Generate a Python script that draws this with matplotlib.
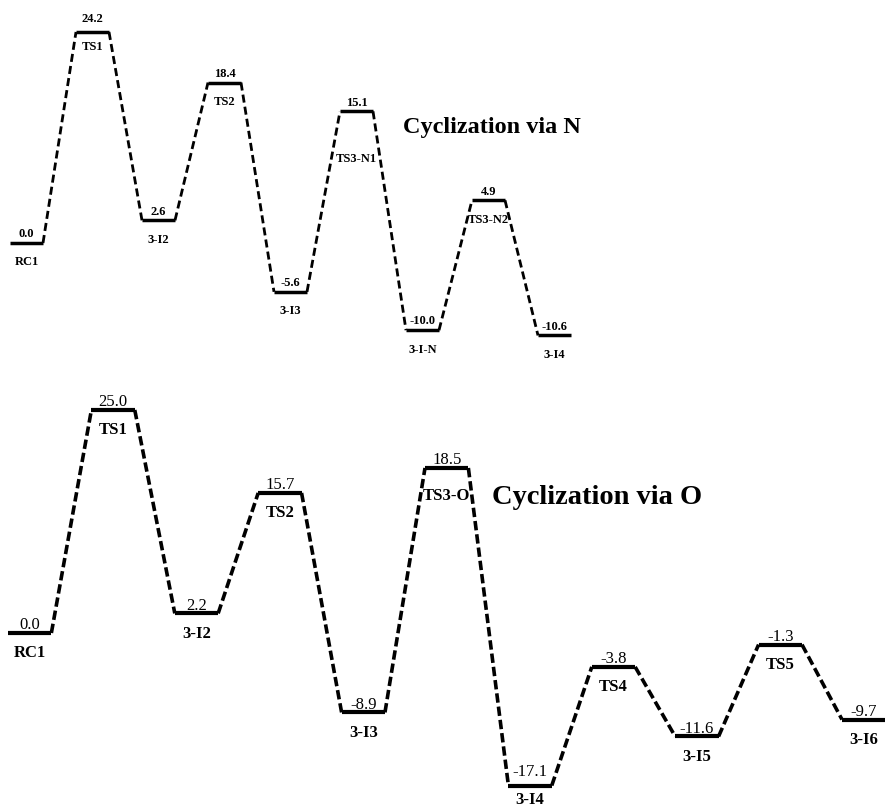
import matplotlib
matplotlib.use("Agg")
import matplotlib.pyplot as plt

# ---- data ----
n_states = ["RC1", "TS1", "3-I2", "TS2", "3-I3", "TS3-N1", "3-I-N", "TS3-N2", "3-I4"]
n_energy = [0.0, 24.2, 2.6, 18.4, -5.6, 15.1, -10.0, 4.9, -10.6]
n_title = "Cyclization via N"

o_states = ["RC1", "TS1", "3-I2", "TS2", "3-I3", "TS3-O", "3-I4", "TS4", "3-I5", "TS5", "3-I6"]
o_energy = [0.0, 25.0, 2.2, 15.7, -8.9, 18.5, -17.1, -3.8, -11.6, -1.3, -9.7]
o_title = "Cyclization via O"

plt.rcParams['font.family'] = ['Liberation Serif', 'DejaVu Serif']

W, H = 885, 808
fig = plt.figure(figsize=(W / 100, H / 100), dpi=100)


def draw_profile(ax, states, energies, width, lw_level, lw_dash, dash, fs,
                 val_dy, name_dy, name_nudge, val_nudge, val_weight):
    for i, (s, e) in enumerate(zip(states, energies)):
        ax.plot([i, i + width], [e, e], color='black', lw=lw_level,
                solid_capstyle='butt', clip_on=False, zorder=3)
        ax.annotate(f"{e:.1f}", (i + width / 2, e),
                    xytext=(0, val_dy + val_nudge.get(s, 0)),
                    textcoords='offset points', ha='center', va='center',
                    fontsize=fs, fontweight=val_weight, annotation_clip=False)
        ax.annotate(s, (i + width / 2, e),
                    xytext=(0, name_dy + name_nudge.get(s, 0)),
                    textcoords='offset points', ha='center', va='center',
                    fontsize=fs, fontweight='bold', annotation_clip=False)
        if i < len(states) - 1:
            ax.plot([i + width, i + 1], [e, energies[i + 1]], color='black',
                    lw=lw_dash, linestyle=(0, dash), dash_capstyle='butt',
                    clip_on=False)
    ax.axis('off')


# top panel: pixel x = 10 + 66*X ; pixel y = 243 - 8.72*E
ax1 = fig.add_axes([0, 0.5, 1, 0.5])
ax1.set_xlim(-10 / 66, 875 / 66)
ax1.set_ylim((243 - 404) / 8.72, 243 / 8.72)
draw_profile(ax1, n_states, n_energy, 0.5, 2.5, 2.0, (2.9, 1.5), 9,
             6.3, -14, {"TS3-N1": -20, "TS1": 3}, {"TS1": 3}, 'bold')
fig.text(403 / W, 1 - 128 / H, n_title, ha='left', va='center',
         fontsize=17.5, fontweight='bold')

# bottom panel: pixel x = 8 + 83.4*X ; pixel y = 633 - 8.92*E
ax2 = fig.add_axes([0, 0, 1, 0.5])
ax2.set_xlim(-8 / 83.4, 877 / 83.4)
ax2.set_ylim((633 - 808) / 8.92, (633 - 404) / 8.92)
draw_profile(ax2, o_states, o_energy, 0.52, 3.0, 2.6, (2.6, 1.1), 12,
             5.5, -14.5, {"TS3-O": -6, "3-I4": 4}, {"3-I4": 4}, 'normal')
fig.text(492 / W, 1 - 498 / H, o_title, ha='left', va='center',
         fontsize=20.5, fontweight='bold')

fig.savefig("out.png", dpi=100, facecolor='white')
